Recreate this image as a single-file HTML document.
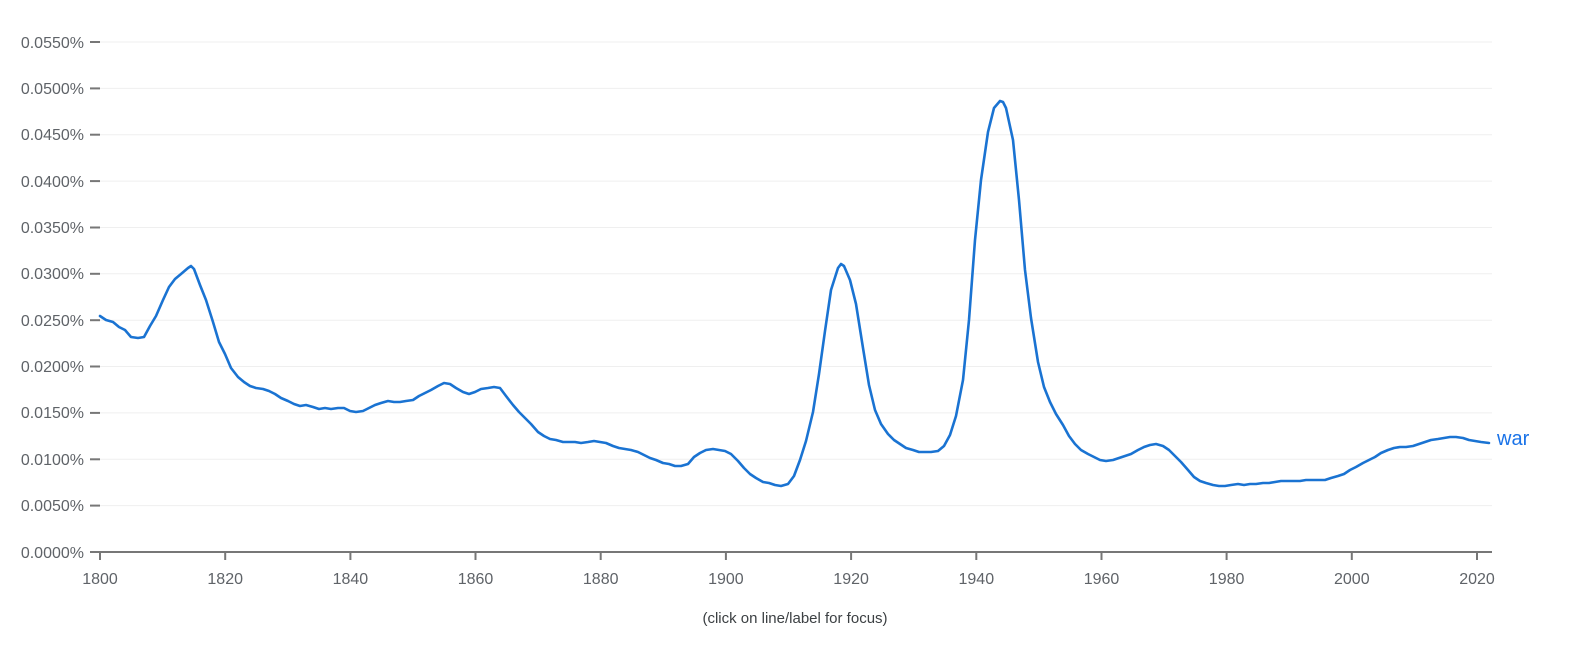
<!DOCTYPE html>
<html><head><meta charset="utf-8"><style>
body{margin:0;background:#fff;}
svg{display:block;font-family:"Liberation Sans",sans-serif;}
</style></head><body>
<svg width="1588" height="658" viewBox="0 0 1588 658">
<g stroke="#efefef" stroke-width="1">
<line x1="100" x2="1492" y1="42" y2="42"/><line x1="100" x2="1492" y1="88.4" y2="88.4"/>
<line x1="100" x2="1492" y1="134.7" y2="134.7"/><line x1="100" x2="1492" y1="181.1" y2="181.1"/>
<line x1="100" x2="1492" y1="227.5" y2="227.5"/><line x1="100" x2="1492" y1="273.8" y2="273.8"/>
<line x1="100" x2="1492" y1="320.2" y2="320.2"/><line x1="100" x2="1492" y1="366.5" y2="366.5"/>
<line x1="100" x2="1492" y1="412.9" y2="412.9"/><line x1="100" x2="1492" y1="459.3" y2="459.3"/>
<line x1="100" x2="1492" y1="505.6" y2="505.6"/>
</g>
<g stroke="#777" stroke-width="2">
<line x1="90" x2="100" y1="42" y2="42"/><line x1="90" x2="100" y1="88.4" y2="88.4"/>
<line x1="90" x2="100" y1="134.7" y2="134.7"/><line x1="90" x2="100" y1="181.1" y2="181.1"/>
<line x1="90" x2="100" y1="227.5" y2="227.5"/><line x1="90" x2="100" y1="273.8" y2="273.8"/>
<line x1="90" x2="100" y1="320.2" y2="320.2"/><line x1="90" x2="100" y1="366.5" y2="366.5"/>
<line x1="90" x2="100" y1="412.9" y2="412.9"/><line x1="90" x2="100" y1="459.3" y2="459.3"/>
<line x1="90" x2="100" y1="505.6" y2="505.6"/><line x1="90" x2="100" y1="552" y2="552"/>
<line x1="100" x2="1492" y1="552" y2="552"/>
<line x1="100" x2="100" y1="552" y2="560"/><line x1="225.2" x2="225.2" y1="552" y2="560"/>
<line x1="350.4" x2="350.4" y1="552" y2="560"/><line x1="475.5" x2="475.5" y1="552" y2="560"/>
<line x1="600.7" x2="600.7" y1="552" y2="560"/><line x1="725.9" x2="725.9" y1="552" y2="560"/>
<line x1="851.1" x2="851.1" y1="552" y2="560"/><line x1="976.3" x2="976.3" y1="552" y2="560"/>
<line x1="1101.5" x2="1101.5" y1="552" y2="560"/><line x1="1226.6" x2="1226.6" y1="552" y2="560"/>
<line x1="1351.8" x2="1351.8" y1="552" y2="560"/><line x1="1477" x2="1477" y1="552" y2="560"/>
</g>
<g fill="#5f6368" font-size="16" text-anchor="end">
<text x="84" y="48">0.0550%</text><text x="84" y="94">0.0500%</text><text x="84" y="140">0.0450%</text>
<text x="84" y="187">0.0400%</text><text x="84" y="233">0.0350%</text><text x="84" y="279">0.0300%</text>
<text x="84" y="326">0.0250%</text><text x="84" y="372">0.0200%</text><text x="84" y="418">0.0150%</text>
<text x="84" y="465">0.0100%</text><text x="84" y="511">0.0050%</text><text x="84" y="558">0.0000%</text>
</g>
<g fill="#5f6368" font-size="16" text-anchor="middle">
<text x="100" y="584">1800</text><text x="225.2" y="584">1820</text><text x="350.4" y="584">1840</text>
<text x="475.5" y="584">1860</text><text x="600.7" y="584">1880</text><text x="725.9" y="584">1900</text>
<text x="851.1" y="584">1920</text><text x="976.3" y="584">1940</text><text x="1101.5" y="584">1960</text>
<text x="1226.6" y="584">1980</text><text x="1351.8" y="584">2000</text><text x="1477" y="584">2020</text>
</g>
<text x="795" y="623" fill="#3c4043" font-size="15" text-anchor="middle">(click on line/label for focus)</text>
<polyline fill="none" stroke="#1a73d2" stroke-width="2.6" stroke-linejoin="round" stroke-linecap="round" points="100,316 106,320 113,322 119,327 125,330 131,337 138,338 144,337 150,326 156,316 163,300 169,287 175,279 181,274 188,268 191,266 194,269 200,285 206,300 213,322 219,342 225,354 231,368 238,377 244,382 250,386 256,388 263,389 269,391 275,394 281,398 288,401 294,404 300,406 306,405 313,407 319,409 325,408 331,409 338,408 344,408 350,411 356,412 363,411 369,408 375,405 381,403 388,401 394,402 400,402 406,401 413,400 419,396 425,393 431,390 438,386 444,383 450,384 456,388 463,392 469,394 475,392 481,389 488,388 494,387 500,388 506,396 513,405 519,412 525,418 531,424 538,432 544,436 550,439 556,440 563,442 569,442 575,442 581,443 588,442 594,441 600,442 606,443 613,446 619,448 625,449 631,450 638,452 644,455 650,458 656,460 663,463 669,464 675,466 681,466 688,464 694,457 700,453 706,450 713,449 719,450 725,451 731,454 738,461 744,468 750,474 756,478 763,482 769,483 775,485 781,486 788,484 794,476 800,460 806,441 813,412 819,374 825,331 831,290 838,268 841,264 844,266 850,280 856,304 863,348 869,385 875,410 881,424 888,434 894,440 900,444 906,448 913,450 919,452 925,452 931,452 938,451 944,446 950,435 956,416 963,380 969,320 975,240 981,180 988,132 994,108 1000,101 1003,102 1006,108 1013,140 1019,200 1025,270 1031,318 1038,362 1044,387 1050,402 1056,414 1063,425 1069,436 1075,444 1081,450 1088,454 1094,457 1100,460 1106,461 1113,460 1119,458 1125,456 1131,454 1138,450 1144,447 1150,445 1156,444 1163,446 1169,450 1175,456 1181,462 1188,470 1194,477 1200,481 1206,483 1213,485 1219,486 1225,486 1231,485 1238,484 1244,485 1250,484 1256,484 1263,483 1269,483 1275,482 1281,481 1288,481 1294,481 1300,481 1306,480 1313,480 1319,480 1325,480 1331,478 1338,476 1344,474 1350,470 1356,467 1363,463 1369,460 1375,457 1381,453 1388,450 1394,448 1400,447 1406,447 1413,446 1419,444 1425,442 1431,440 1438,439 1444,438 1450,437 1456,437 1463,438 1469,440 1475,441 1481,442 1489,443"/>
<text x="1497" y="445" fill="#1a73e8" font-size="20">war</text>
</svg>
</body></html>
